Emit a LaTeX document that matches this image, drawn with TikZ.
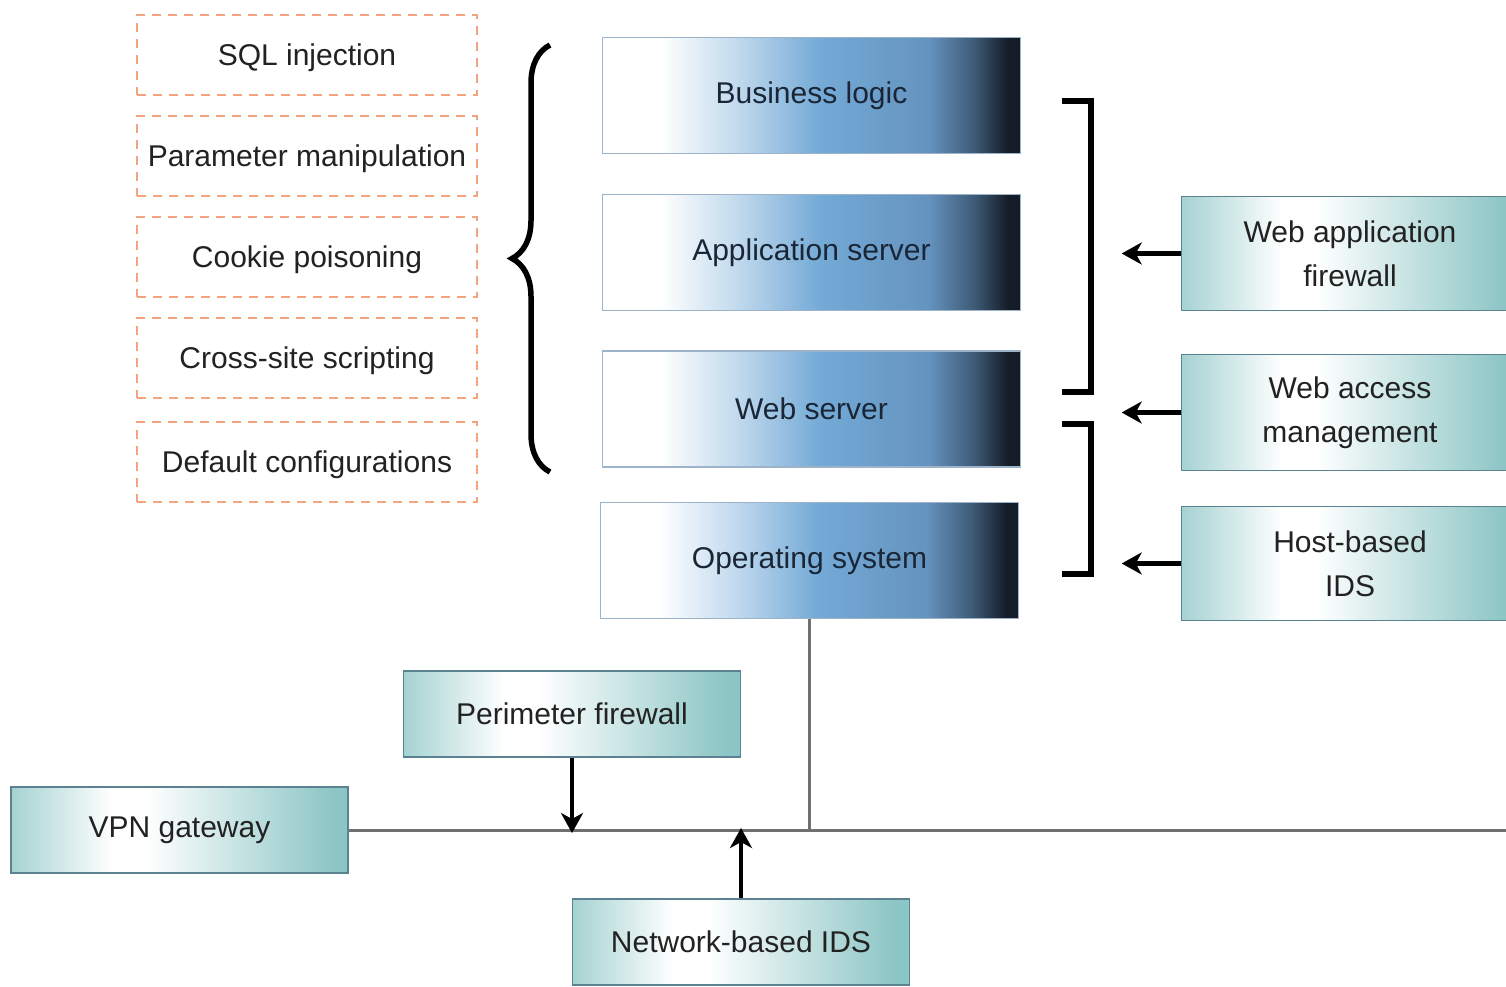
\documentclass[tikz,border=0pt]{standalone}
\usepackage{fontspec}
\usetikzlibrary{arrows.meta,decorations.pathreplacing}
\newfontfamily\labelfont{Liberation Sans}

\definecolor{dashorange}{HTML}{F2A47E}
\definecolor{stackedge}{HTML}{9DB3C9}
\definecolor{blA}{HTML}{C2DAEE}
\definecolor{blB}{HTML}{74AAD6}
\definecolor{blC}{HTML}{6593BF}
\definecolor{blD}{HTML}{3E5A76}
\definecolor{blE}{HTML}{141C28}
\definecolor{tealedge}{HTML}{5A8290}
\definecolor{tealL}{HTML}{A6D2D2}
\definecolor{tealR}{HTML}{8CC5C5}
\definecolor{labelink}{HTML}{222222}
\definecolor{stackink}{HTML}{1A2636}
\definecolor{netgray}{HTML}{707070}

% application stack: white on the left, blue in the middle, near black at the right edge
\pgfdeclarehorizontalshading{stackfill}{100bp}{color(0bp)=(white); color(25bp)=(white); color(32bp)=(white);
  color(41bp)=(blA); color(51bp)=(blB); color(64bp)=(blC); color(69.5bp)=(blD); color(73.5bp)=(blE);
  color(75bp)=(blE); color(100bp)=(blE)}
% security components: teal edges with a pale centre
\pgfdeclarehorizontalshading{tealfill}{100bp}{color(0bp)=(tealL); color(25bp)=(tealL);
  color(40bp)=(white); color(45bp)=(white); color(73bp)=(tealR); color(75bp)=(tealR); color(100bp)=(tealR)}

\tikzset{
  txt/.style={font={\labelfont\fontsize{30}{44}\selectfont}, align=center, inner sep=0pt},
  oneline/.style={text depth=0pt},
  threat/.style={txt, oneline, text=labelink, draw=dashorange, fill=white, line width=2pt,
    dash pattern=on 9pt off 7pt, minimum width=340pt, minimum height=80pt},
  layer/.style={txt, text=stackink, draw=stackedge, line width=1.6pt, shading=stackfill,
    minimum width=418pt, minimum height=116pt},
  guard/.style={txt, text=labelink, draw=tealedge, line width=1.6pt, shading=tealfill,
    minimum width=337pt, minimum height=86pt},
  heavyarrow/.style={line width=4.5pt, -{Stealth[length=20pt,width=22pt,inset=6pt]}},
  bracket/.style={line width=5.5pt, line cap=butt, line join=miter},
  netline/.style={draw=netgray, line width=3pt},
  tapline/.style={draw=netgray, line width=2.4pt},
}

\begin{document}
\begin{tikzpicture}[x=1pt,y=-1pt]
\useasboundingbox (0,0) rectangle (1506,987);

% threats to the application stack
\node[threat] (sql)    at (307,55)  {SQL injection};
\node[threat] (param)  at (307,156) {Parameter manipulation};
\node[threat] (cookie) at (307,257) {Cookie poisoning};
\node[threat] (xss)    at (307,358) {Cross-site scripting};
\node[threat] (defcfg) at (307,462) {Default configurations};

\draw[line width=5.5pt, decorate, decoration={brace, amplitude=38pt}] (550,472) -- (550,45);

% application stack
\node[layer] (biz) at (811.5,95.5) {Business logic};
\node[layer] (app) at (811.5,252.5) {Application server};
\node[layer] (web) at (811.5,409) {Web server};
\node[layer] (os)  at (809.5,560.5) {Operating system};

% brackets grouping the protected layers
\draw[bracket] (1062,101) -- (1091,101) -- (1091,392) -- (1062,392);
\draw[bracket] (1062,424) -- (1091,424) -- (1091,574) -- (1062,574);

% host-level protections
\node[guard, minimum height=114pt] (waf)  at (1350,253.5) {Web application\\firewall};
\node[guard, minimum height=116pt] (wam)  at (1350,412.5) {Web access\\management};
\node[guard, minimum height=114pt] (hids) at (1350,563.5) {Host-based\\IDS};

\draw[heavyarrow] (waf.west)  -- ++(-59,0);
\draw[heavyarrow] (wam.west)  -- ++(-59,0);
\draw[heavyarrow] (hids.west) -- ++(-59,0);

% network perimeter
\node[guard] (perim) at (572,714)   {Perimeter firewall};
\node[guard] (vpn)   at (179.5,830) {VPN gateway};
\node[guard] (nids)  at (741,942)   {Network-based IDS};

\coordinate (netend) at (1506,830);
\draw[netline] (vpn.east) -- (netend);
\draw[tapline] (os.south) -- (os.south |- vpn.east);

\draw[heavyarrow] (perim.south) -- ([yshift=-3pt]perim.south |- vpn.east);
\draw[heavyarrow] (nids.north)  -- ([yshift=2pt]nids.north |- vpn.east);
\end{tikzpicture}
\end{document}
